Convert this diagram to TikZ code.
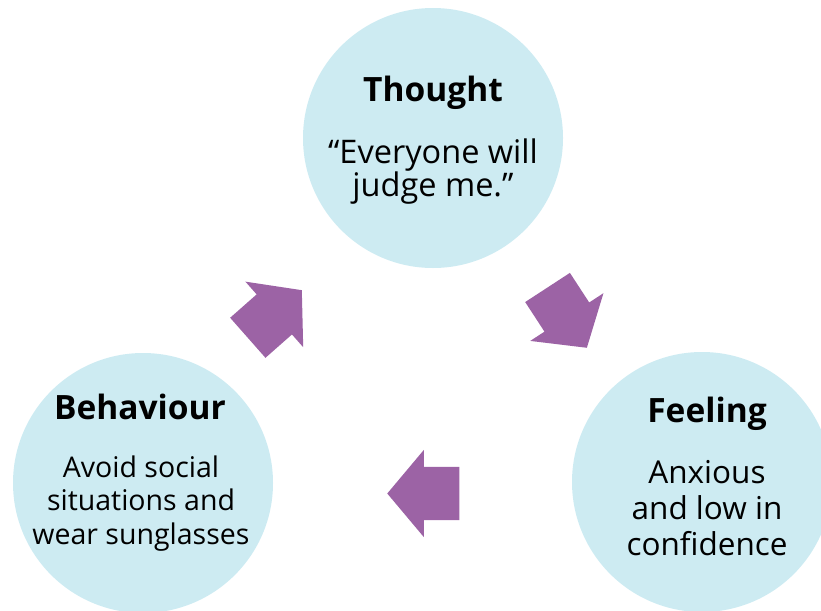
\documentclass[tikz,border=0pt]{standalone}
\usepackage{fontspec}
\setmainfont{Open Sans}
\usetikzlibrary{calc,shapes.arrows}
\definecolor{bubblefill}{RGB}{205,235,242}
\definecolor{cyclepurple}{RGB}{156,99,165}
\tikzset{
	bubble/.style={circle, fill=bubblefill, minimum size=260pt, inner sep=0pt},
	heading/.style={anchor=base, font=\fontsize{33.5}{38}\selectfont\bfseries},
	bodytext/.style={anchor=base, align=center},
	cyclearrow/.style={single arrow, fill=cyclepurple, anchor=tip,
		inner xsep=0pt, inner ysep=26.5pt,
		minimum height=72pt, minimum width=87pt,
		single arrow head extend=17pt, single arrow tip angle=100},
}

\begin{document}
\begin{tikzpicture}[x=1pt, y=-1pt]
			%%%%% START %%%%%
			
			\useasboundingbox (0, 0) rectangle (821, 610);
			\clip (0, 0) rectangle (821, 610);
			
			\node[bubble] (thought) at (433, 138) {};
			\node[bubble] (behaviour) at (143, 483) {};
			\node[bubble] (feeling) at (702, 482) {};
			
			\node[heading] (thoughthead) at ($(thought)+(0, -37)$) {Thought};
			\node[bodytext, font=\fontsize{32.5}{33}\selectfont] (thoughtbody) at ($(thought)+(0, 58)$) {“Everyone will\\judge me.”};
			
			\node[heading] (behaviourhead) at ($(behaviour)+(-3, -64)$) {Behaviour};
			\node[bodytext, font=\fontsize{28.5}{33.5}\selectfont] (behaviourbody) at ($(behaviour)+(-2, 61)$) {Avoid social\\situations and\\wear sunglasses};
			
			\node[heading] (feelinghead) at ($(feeling)+(5, -60)$) {Feeling};
			\node[bodytext, font=\fontsize{31.5}{36}\selectfont] (feelingbody) at ($(feeling)+(5, 73)$) {Anxious\\and low in\\confidence};
			
			\node[cyclearrow, rotate=41.4] (tothought) at (302, 290) {};
			\node[cyclearrow, rotate=-56.9] (tofeeling) at (587, 348) {};
			\node[cyclearrow, rotate=180] (tobehaviour) at (387, 493.5) {};
			
			%%%%% END %%%%%
\end{tikzpicture}
\end{document}
